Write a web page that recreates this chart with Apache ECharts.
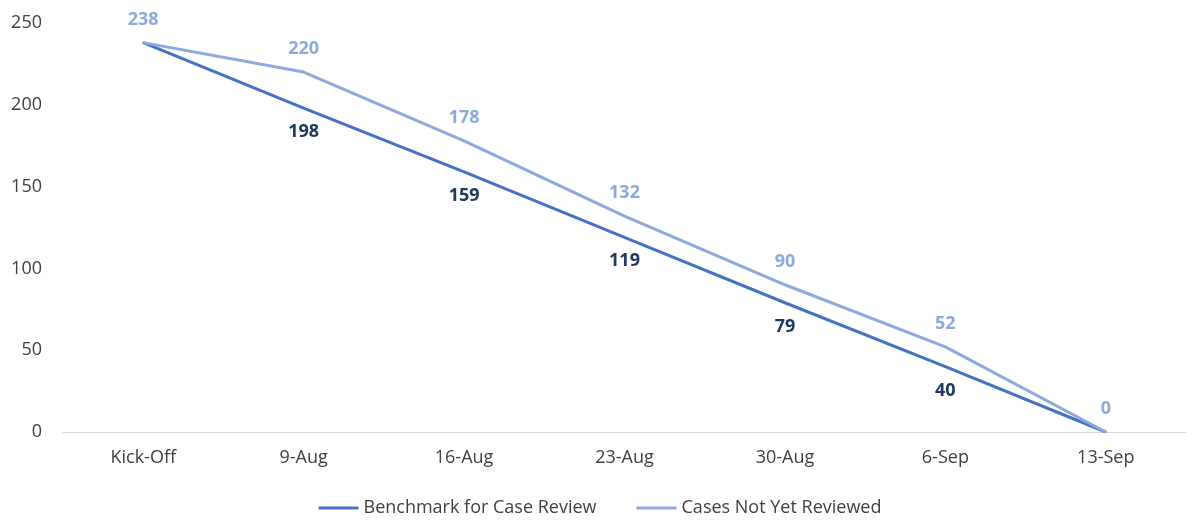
<!DOCTYPE html>
<html>
<head>
<meta charset="utf-8">
<script src="https://cdn.jsdelivr.net/npm/echarts@6/dist/echarts.min.js"></script>
<style>
html,body{margin:0;padding:0;background:#fff;}
#chart{width:1200px;height:527px;}
</style>
</head>
<body>
<div id="chart"></div>
<script>
//类别
var categories = ['Kick-Off', '9-Aug', '16-Aug', '23-Aug', '30-Aug', '6-Sep', '13-Sep'];
//基准线
var benchmark = [238, 198, 159, 119, 79, 40, 0];
//未审案件
var notReviewed = [238, 220, 178, 132, 90, 52, 0];

var fontName = 'Open Sans';

//基准线首尾不显示标签
var benchmarkData = benchmark.map(function (v, i) {
    return {
        value: v,
        label: { show: i > 0 && i < benchmark.length - 1 }
    };
});

var myChart = echarts.init(document.getElementById('chart'));

var option = {
    animation: false,
    textStyle: { fontFamily: fontName },
    grid: { left: 63, right: 14, top: 23, bottom: 95 },
    legend: {
        bottom: 5,
        left: 'center',
        icon: 'rect',
        itemWidth: 40,
        itemHeight: 3,
        itemGap: 40,
        textStyle: { fontFamily: fontName, fontSize: 18, color: '#404040' },
        data: ['Benchmark for Case Review', 'Cases Not Yet Reviewed']
    },
    xAxis: {
        type: 'category',
        data: categories,
        boundaryGap: true,
        axisLine: { lineStyle: { color: '#d9d9d9', width: 1 } },
        axisTick: { show: false },
        axisLabel: { color: '#404040', fontSize: 18, margin: 17, fontFamily: fontName }
    },
    yAxis: {
        type: 'value',
        min: 0,
        max: 250,
        interval: 50,
        axisLine: { show: false },
        axisTick: { show: false },
        splitLine: { show: false },
        axisLabel: { color: '#404040', fontSize: 18, margin: 21, fontFamily: fontName }
    },
    series: [{
        name: 'Benchmark for Case Review',
        type: 'line',
        data: benchmarkData,
        symbol: 'circle',
        symbolSize: 2,
        showSymbol: true,
        lineStyle: { color: '#4472C4', width: 3 },
        itemStyle: { color: '#4472C4' },
        label: {
            position: 'bottom',
            distance: 14,
            color: '#1F3864',
            fontWeight: 'bold',
            fontSize: 18,
            fontFamily: fontName
        },
        z: 2
    }, {
        name: 'Cases Not Yet Reviewed',
        type: 'line',
        data: notReviewed,
        symbol: 'circle',
        symbolSize: 2,
        showSymbol: true,
        lineStyle: { color: '#8EA9DB', width: 3 },
        itemStyle: { color: '#8EA9DB' },
        label: {
            show: true,
            position: 'top',
            distance: 13,
            color: '#8EA9DB',
            fontWeight: 'bold',
            fontSize: 18,
            fontFamily: fontName
        },
        z: 3
    }]
};

myChart.setOption(option);
</script>
</body>
</html>
